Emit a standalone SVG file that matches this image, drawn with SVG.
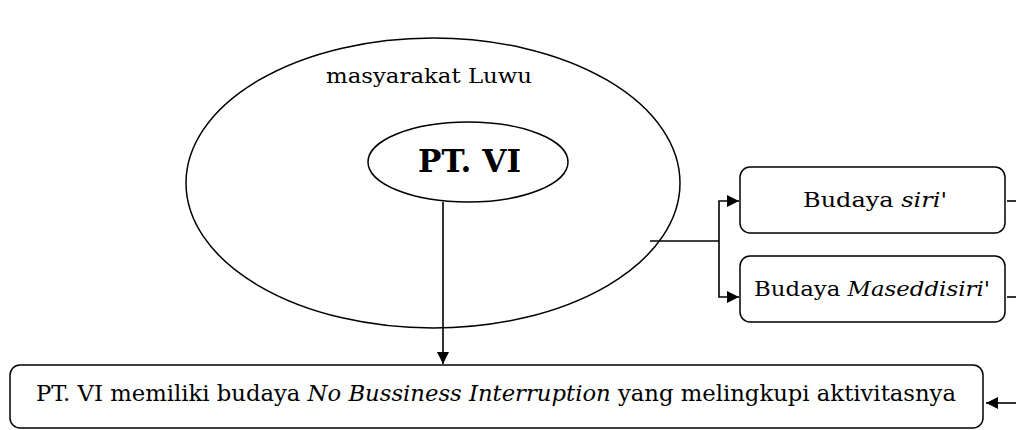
<svg xmlns="http://www.w3.org/2000/svg" width="1016" height="430" viewBox="0 0 1016 430">
<defs>
<marker id="ah" viewBox="0 0 10 10" refX="10" refY="5" markerWidth="12" markerHeight="12" markerUnits="userSpaceOnUse" orient="auto"><path d="M0,0 L10,5 L0,10 Z" fill="#000"/></marker>
<style>
.b{fill:#fff;stroke:#000;stroke-width:1.5}
.t{font-family:"DejaVu Serif","Liberation Serif",serif;font-size:21px;fill:#000}
.c{stroke:#000;stroke-width:1.6;fill:none}
</style>
</defs>
<rect width="1016" height="430" fill="#fff"/>
<g id="masyarakat">
<ellipse class="b" cx="433" cy="183" rx="247" ry="145"/>
<text class="t" x="326" y="83" textLength="206" lengthAdjust="spacingAndGlyphs">masyarakat Luwu</text>
</g>
<g id="pt-vi">
<ellipse class="b" cx="468" cy="162" rx="100" ry="40"/>
<text x="418" y="172" textLength="103" lengthAdjust="spacingAndGlyphs" style="font-family:'DejaVu Serif',serif;font-weight:bold;font-size:31px">PT. VI</text>
</g>
<g id="siri">
<rect class="b" x="740" y="167" width="265" height="66" rx="10"/>
<text class="t" x="803" y="207" textLength="144" lengthAdjust="spacingAndGlyphs">Budaya <tspan font-style="italic">siri'</tspan></text>
</g>
<g id="maseddisiri">
<rect class="b" x="740" y="256" width="265" height="66" rx="10"/>
<text class="t" x="754" y="296" textLength="236" lengthAdjust="spacingAndGlyphs">Budaya <tspan font-style="italic">Maseddisiri'</tspan></text>
</g>
<g id="nbi">
<rect class="b" x="10" y="365" width="973" height="63" rx="10"/>
<text x="36" y="401" textLength="920" lengthAdjust="spacingAndGlyphs" style="font-family:'DejaVu Serif',serif;font-size:22px">PT. VI memiliki budaya <tspan font-style="italic">No Bussiness Interruption</tspan>  yang melingkupi aktivitasnya</text>
</g>
<g id="connectors">
<line class="c" x1="443" y1="202" x2="443" y2="364" marker-end="url(#ah)" stroke-width="2.5"/>
<polyline class="c" points="650,241 719,241"/>
<polyline class="c" points="719,241 719,201 739,201" marker-end="url(#ah)"/>
<polyline class="c" points="719,241 719,297 739,297" marker-end="url(#ah)"/>
<line class="c" x1="1007" y1="201" x2="1016" y2="201"/>
<line class="c" x1="1007" y1="297" x2="1016" y2="297"/>
<line class="c" x1="1016" y1="403" x2="986" y2="403" marker-end="url(#ah)" stroke-width="2.5"/>
</g>
</svg>
